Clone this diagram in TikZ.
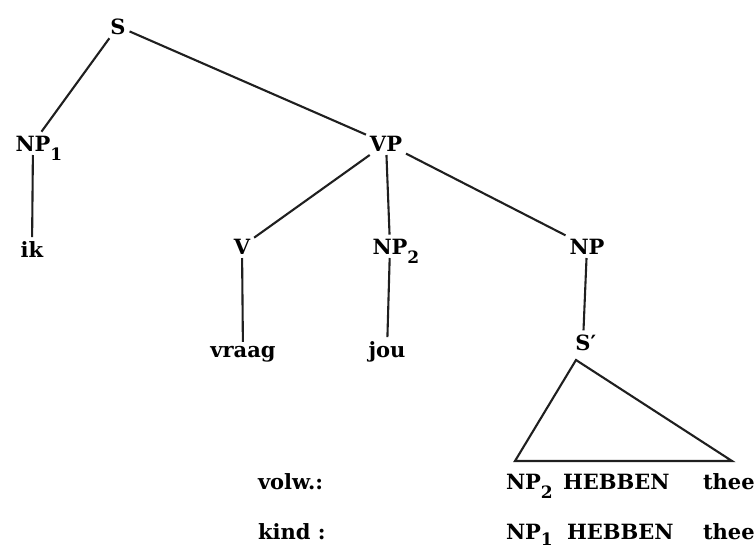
\documentclass[tikz,border=0pt]{standalone}
\usepackage{fontspec}
\setmainfont{DejaVu Serif}
\newcommand\subs[2][-9pt]{\rlap{\smash{\raisebox{#1}{\fontsize{17}{17}\selectfont #2}}}}
\begin{document}
\begin{tikzpicture}[x=1pt,y=-1pt,
  lab/.style={inner sep=4pt,outer sep=0pt,anchor=base,font=\fontsize{21}{24}\selectfont\bfseries},
  labw/.style={lab,inner sep=0pt,anchor=base west},
  edge/.style={line width=2.1pt,black!88}]
\useasboundingbox (0,0) rectangle (755,549);
% nodes
\node[lab] (s)   at (118,34)  {S};
\node[lab] (np1) at (33,151)  {NP\subs{1}};
\node[lab] (ik)  at (32,257)  {ik};
\node[lab] (vp)  at (386,151) {VP};
\node[lab] (v)   at (242,254) {V};
\node[lab] (vraag) at (243,357) {vraag};
\node[lab] (np2) at (390,254) {NP\subs{2}};
\node[lab] (jou) at (387,357) {jou};
\node[lab] (np)  at (587,254) {NP};
\node[lab] (sb)  at (583,350) {S\rlap{′}};
\coordinate (ta) at (576,360);
\coordinate (tl) at (515,461);
\coordinate (tr) at (732,461);
\node[labw] (volw) at (258,489) {volw.:};
\node[labw] (kind) at (258,539) {kind :};
\node[labw] (r1np) at (506,489) {NP\subs{2}};
\node[labw] (r1h)  at (563,489) {HEBBEN};
\node[labw] (r1t)  at (703,489) {thee};
\node[labw] (r2np) at (506,539) {NP\subs[-6pt]{1}};
\node[labw] (r2h)  at (567,539) {HEBBEN};
\node[labw] (r2t)  at (703,539) {thee};
% edges
\draw[edge] (s) -- (np1);
\draw[edge] (s) -- (vp);
\draw[edge] (vp) -- (v);
\draw[edge] (vp) -- (np2);
\draw[edge] (vp) -- (np);
\draw[edge] (np1) -- (ik);
\draw[edge] (v) -- (vraag);
\draw[edge] (np2) -- (jou);
\draw[edge] (np) -- (sb);
\draw[edge,line join=miter] (ta) -- (tl) -- (tr) -- cycle;
\end{tikzpicture}
\end{document}
